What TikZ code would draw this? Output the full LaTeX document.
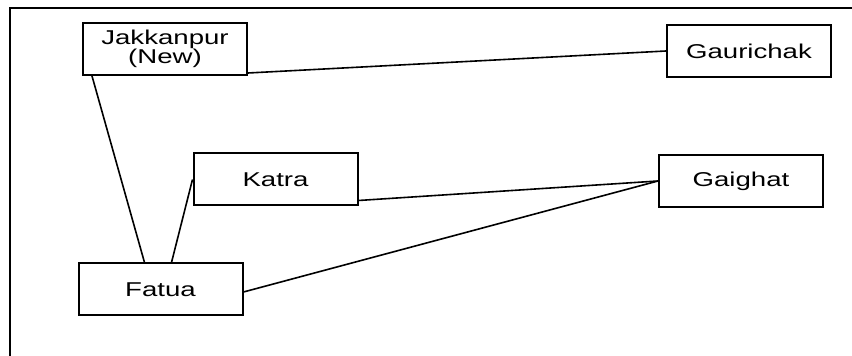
\documentclass[tikz,border=0pt]{standalone}
\usepackage{fontspec}
\setmainfont{Liberation Sans}
\usepackage{graphicx}
\usetikzlibrary{calc}
\newcommand{\wide}[1]{\scalebox{1.38}[1]{#1}}

\begin{document}
\begin{tikzpicture}[x=0.5pt,y=-0.5pt,
	station/.style={draw,line width=1pt,rectangle,inner sep=0pt,minimum width=82pt,minimum height=26pt,font=\fontsize{10}{9.5}\selectfont,align=center},
	link/.style={line width=0.8pt}]
	\useasboundingbox (0,0) rectangle (852,356);
	% frame, only top and left side
	\draw[line width=1pt] (10,356) -- (10,8) -- (852,8);
	% stations
	\node[station] (jakk) at (165,49) {\wide{Jakkanpur}\\\wide{(New)}};
	\node[station] (gauri) at (749,51) {\wide{Gaurichak}};
	\node[station] (katra) at (275.5,179.5) {\wide{Katra}};
	\node[station] (gaighat) at (741,181) {\wide{Gaighat}};
	\node[station] (fatua) at (160.5,289.5) {\wide{Fatua}};
	% links
	\draw[link] ($(jakk.south east)+(0,-3)$) -- (gauri.west);% top long line
	\draw[link] ($(jakk.south west)+(10,0)$) -- ($(fatua.north west)+(67,0)$);% left down
	\draw[link] (katra.west) -- ($(fatua.north west)+(94,0)$);% short one to Fatua
	\draw[link] ($(katra.south east)+(0,-6)$) -- (gaighat.west);% Katra to Gaighat
	\draw[link] ($(fatua.east)+(0,2.5)$) -- (gaighat.west);% Fatua to Gaighat
\end{tikzpicture}
\end{document}
